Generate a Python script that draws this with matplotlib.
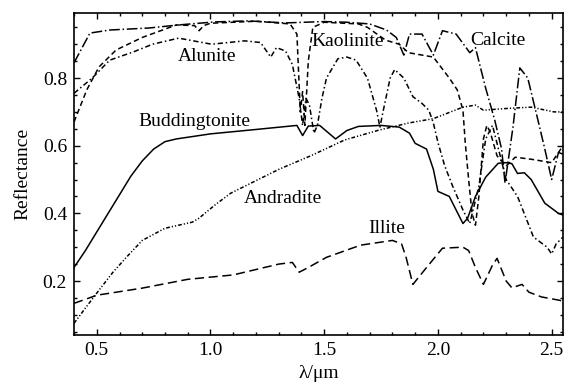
import matplotlib
matplotlib.use('Agg')
import matplotlib.pyplot as plt
from matplotlib.ticker import MultipleLocator

plt.rcParams['font.family'] = ['Liberation Serif', 'DejaVu Serif']

# Buddingtonite (solid)
bud_x = [0.40, 0.45, 0.50, 0.55, 0.60, 0.65, 0.70, 0.75, 0.80, 0.85, 1.00, 1.20, 1.38, 1.405,
         1.43, 1.48, 1.55, 1.60, 1.65, 1.75, 1.83, 1.875, 1.90, 1.95, 1.98, 2.00, 2.05, 2.08,
         2.11, 2.13, 2.165, 2.21, 2.265, 2.296, 2.325, 2.35, 2.38, 2.41, 2.47, 2.53, 2.55]
bud_y = [0.24, 0.29, 0.345, 0.40, 0.455, 0.51, 0.555, 0.59, 0.612, 0.62, 0.635, 0.648, 0.66, 0.63,
         0.658, 0.66, 0.62, 0.645, 0.657, 0.66, 0.655, 0.637, 0.607, 0.59, 0.53, 0.465, 0.45, 0.41,
         0.37, 0.385, 0.45, 0.507, 0.548, 0.55, 0.547, 0.518, 0.52, 0.50, 0.43, 0.40, 0.395]

# Illite (long dash)
ill_x = [0.40, 0.50, 0.70, 0.90, 1.10, 1.30, 1.36, 1.39, 1.43, 1.51, 1.66, 1.80, 1.84, 1.86,
         1.89, 1.95, 2.02, 2.11, 2.135, 2.165, 2.20, 2.24, 2.26, 2.30, 2.325, 2.37, 2.40, 2.455,
         2.535, 2.55]
ill_y = [0.134, 0.158, 0.179, 0.205, 0.218, 0.25, 0.255, 0.226, 0.24, 0.27, 0.306, 0.32, 0.31, 0.27,
         0.19, 0.24, 0.297, 0.30, 0.29, 0.24, 0.19, 0.247, 0.267, 0.20, 0.18, 0.19, 0.167, 0.153,
         0.143, 0.14]

# Andradite (dash-dot-dot)
and_x = [0.40, 0.45, 0.51, 0.57, 0.63, 0.70, 0.80, 0.92, 0.95, 1.02, 1.09, 1.30, 1.44, 1.59,
         1.74, 1.87, 1.98, 2.11, 2.165, 2.20, 2.30, 2.41, 2.51, 2.55]
and_y = [0.075, 0.12, 0.173, 0.225, 0.27, 0.32, 0.356, 0.374, 0.386, 0.425, 0.46, 0.53, 0.57, 0.617,
         0.646, 0.667, 0.68, 0.714, 0.72, 0.705, 0.71, 0.714, 0.70, 0.70]

# Alunite (dash-dot)
alu_x = [0.40, 0.48, 0.557, 0.66, 0.745, 0.86, 1.005, 1.15, 1.22, 1.265, 1.29, 1.33, 1.36, 1.39,
         1.405, 1.42, 1.435, 1.455, 1.47, 1.49, 1.51, 1.56, 1.60, 1.64, 1.69, 1.73, 1.745, 1.76,
         1.79, 1.81, 1.85, 1.89, 1.93, 1.96, 1.98, 2.00, 2.03, 2.065, 2.11, 2.14, 2.18, 2.21,
         2.24, 2.27, 2.30, 2.35, 2.42, 2.48, 2.50, 2.52, 2.55]
alu_y = [0.755, 0.80, 0.853, 0.877, 0.90, 0.918, 0.90, 0.91, 0.905, 0.862, 0.89, 0.88, 0.84, 0.74,
         0.66, 0.74, 0.72, 0.637, 0.66, 0.74, 0.80, 0.857, 0.862, 0.853, 0.80, 0.705, 0.655, 0.705,
         0.80, 0.825, 0.80, 0.745, 0.725, 0.705, 0.667, 0.61, 0.54, 0.48, 0.41, 0.37, 0.48, 0.62,
         0.66, 0.58, 0.50, 0.45, 0.33, 0.30, 0.28, 0.31, 0.33]

# Kaolinite (dashed)
kao_x = [0.40, 0.456, 0.51, 0.585, 0.70, 0.85, 0.93, 0.95, 0.97, 1.00, 1.20, 1.35, 1.38, 1.395,
         1.405, 1.415, 1.43, 1.45, 1.50, 1.65, 1.69, 1.77, 1.83, 1.87, 1.98, 2.05, 2.085, 2.11,
         2.12, 2.135, 2.15, 2.165, 2.18, 2.20, 2.215, 2.23, 2.26, 2.30, 2.34, 2.41, 2.50, 2.53, 2.55]
kao_y = [0.67, 0.765, 0.833, 0.883, 0.92, 0.957, 0.955, 0.94, 0.955, 0.962, 0.968, 0.96, 0.93, 0.70,
         0.76, 0.66, 0.85, 0.95, 0.965, 0.96, 0.95, 0.912, 0.90, 0.875, 0.862, 0.80, 0.765, 0.705,
         0.61, 0.50, 0.40, 0.365, 0.45, 0.62, 0.66, 0.64, 0.57, 0.54, 0.566, 0.56, 0.55, 0.58, 0.575]

# Calcite (long dash-dot)
cal_x = [0.40, 0.47, 0.557, 0.73, 0.86, 1.02, 1.165, 1.33, 1.50, 1.60, 1.70, 1.774, 1.817, 1.85,
         1.875, 1.93, 1.98, 2.02, 2.08, 2.14, 2.165, 2.21, 2.25, 2.28, 2.295, 2.33, 2.36, 2.395,
         2.44, 2.47, 2.50, 2.53, 2.55]
cal_y = [0.845, 0.933, 0.942, 0.948, 0.957, 0.966, 0.969, 0.963, 0.967, 0.965, 0.96, 0.942, 0.92, 0.868,
         0.93, 0.93, 0.868, 0.94, 0.93, 0.875, 0.89, 0.77, 0.675, 0.59, 0.49, 0.655, 0.83, 0.80,
         0.675, 0.59, 0.50, 0.58, 0.60]

labels = ['Alunite', 'Kaolinite', 'Calcite', 'Buddingtonite', 'Andradite', 'Illite']
label_x = [0.983, 1.604, 2.265, 0.93, 1.317, 1.774]
label_y = [0.865, 0.909, 0.912, 0.673, 0.445, 0.356]

fig = plt.figure(figsize=(5.65, 3.87), dpi=100)
ax = fig.add_axes([0.131, 0.134, 0.8655, 0.833])

lw = 1.1
ax.plot(bud_x, bud_y, color='black', lw=lw, linestyle='-')
ax.plot(ill_x, ill_y, color='black', lw=lw, dashes=(6, 3))
ax.plot(and_x, and_y, color='black', lw=lw, dashes=(2.5, 1.3, 0.8, 1.3, 0.8, 1.3))
ax.plot(alu_x, alu_y, color='black', lw=lw, dashes=(3.5, 1.8, 1, 1.8))
ax.plot(kao_x, kao_y, color='black', lw=lw, dashes=(3.5, 2.2))
ax.plot(cal_x, cal_y, color='black', lw=lw, dashes=(7, 1.8, 1, 1.8))

for t, x, y in zip(labels, label_x, label_y):
    ax.text(x, y, t, ha='center', va='center', fontsize=14)

ax.set_xlim(0.4, 2.55)
ax.set_ylim(0.04, 0.993)
ax.xaxis.set_minor_locator(MultipleLocator(0.1))
ax.yaxis.set_minor_locator(MultipleLocator(0.05))
ax.set_xticks([0.5, 1.0, 1.5, 2.0, 2.5])
ax.set_xticklabels(['0.5', '1.0', '1.5', '2.0', '2.5'])
ax.set_yticks([0.2, 0.4, 0.6, 0.8])
ax.set_yticklabels(['0.2', '0.4', '0.6', '0.8'])
ax.tick_params(which='both', direction='in', top=True, right=True, labelsize=14, width=1.0)
ax.tick_params(which='major', length=4.5, pad=5)
ax.tick_params(which='minor', length=2.5)
for s in ax.spines.values():
    s.set_linewidth(1.2)

ax.set_xlabel('λ/μm', fontsize=14, labelpad=4)
ax.set_ylabel('Reflectance', fontsize=14, labelpad=8)

fig.savefig('out.png', dpi=100)
